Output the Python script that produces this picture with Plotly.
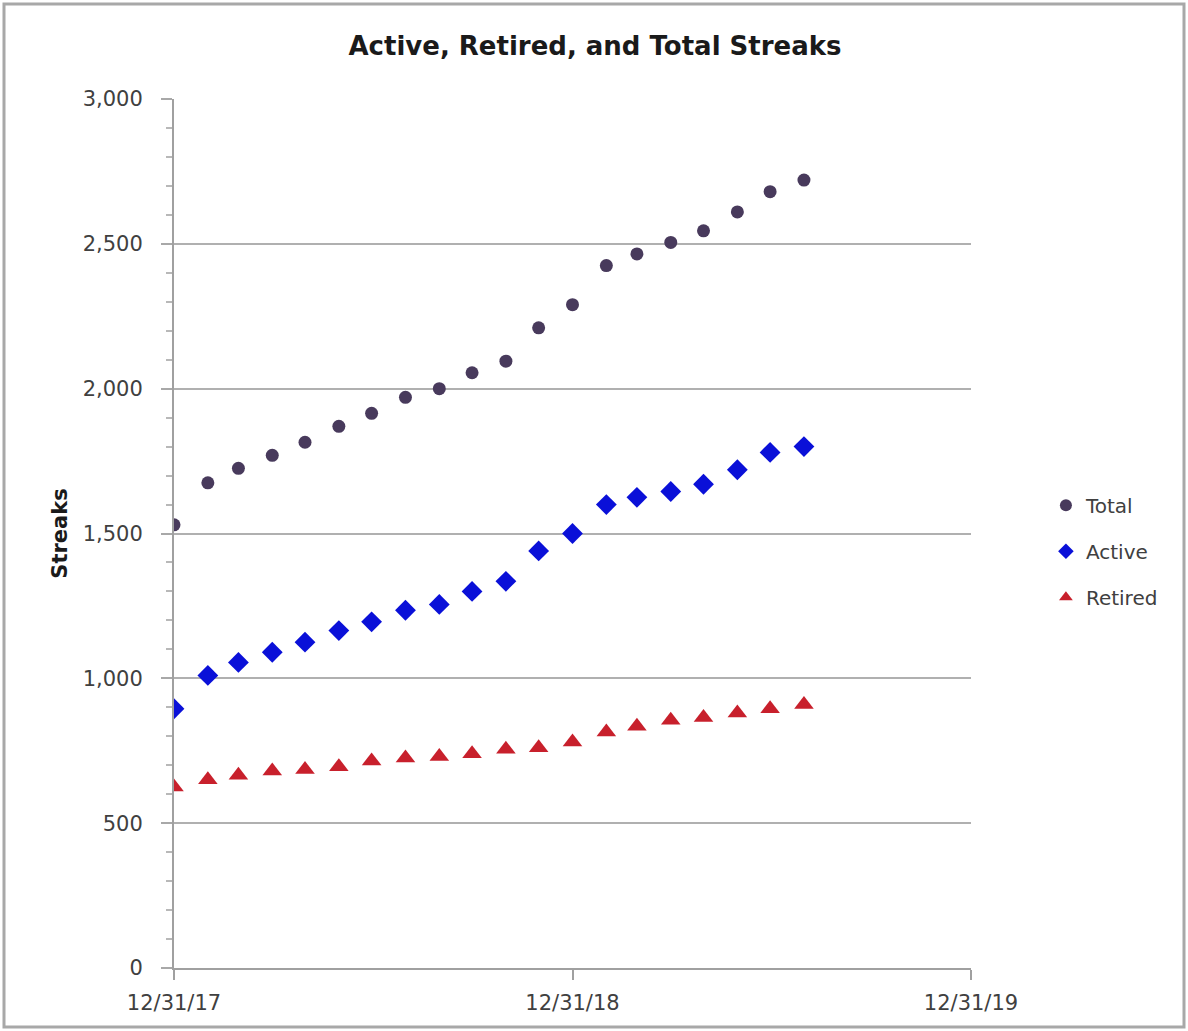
import plotly.graph_objects as go

dates = ["2017-12-31", "2018-01-31", "2018-02-28", "2018-03-31", "2018-04-30",
         "2018-05-31", "2018-06-30", "2018-07-31", "2018-08-31", "2018-09-30",
         "2018-10-31", "2018-11-30", "2018-12-31", "2019-01-31", "2019-02-28",
         "2019-03-31", "2019-04-30", "2019-05-31", "2019-06-30", "2019-07-31"]
total = [1530, 1675, 1725, 1770, 1815, 1870, 1915, 1970, 2000, 2055,
         2095, 2210, 2290, 2425, 2465, 2505, 2545, 2610, 2680, 2720]
active = [895, 1010, 1055, 1090, 1125, 1165, 1195, 1235, 1255, 1300,
          1335, 1440, 1500, 1600, 1625, 1645, 1670, 1720, 1780, 1800]
retired = [625, 650, 665, 680, 685, 695, 715, 725, 730, 740,
           755, 760, 780, 815, 835, 855, 865, 880, 895, 910]
x_ticks = ["2017-12-31", "2018-12-31", "2019-12-31"]
x_tick_labels = ["12/31/17", "12/31/18", "12/31/19"]

FONT = "DejaVu Sans"
fig = go.Figure()
fig.add_trace(go.Scatter(x=dates, y=total, mode="markers", name="Total", legendgroup="t",
                         marker=dict(symbol="circle", size=13, color="#483a5c")))
fig.add_trace(go.Scatter(x=dates, y=active, mode="markers", name="Active", legendgroup="a",
                         marker=dict(symbol="diamond", size=16, color="#0a10d8")))
fig.add_trace(go.Scatter(x=dates, y=retired, mode="markers", name="Retired", legendgroup="r",
                         marker=dict(symbol="triangle-up", size=17, color="#c8202c")))

fig.update_layout(
    width=1188, height=1031,
    margin=dict(l=174, r=217, t=99, b=63),
    paper_bgcolor="white", plot_bgcolor="white",
    font=dict(family=FONT, color="#404040"),
    title=dict(text="<b>Active, Retired, and Total Streaks</b>", x=595 / 1188,
               xanchor="center", y=1 - 46 / 1031, yanchor="middle",
               font=dict(size=26, color="#1a1a1a", family=FONT)),
    showlegend=True,
    legend=dict(x=1.094, y=0.555, xanchor="left", yanchor="top",
                font=dict(size=20, color="#404040", family=FONT),
                tracegroupgap=17, itemsizing="constant",
                bgcolor="rgba(0,0,0,0)"),
    xaxis=dict(type="date", range=["2017-12-31", "2019-12-31"],
               tickvals=x_ticks, ticktext=x_tick_labels,
               showgrid=False, showline=True, linecolor="#a0a0a0", linewidth=2,
               ticks="outside", ticklen=10, tickcolor="#a0a0a0", tickwidth=2,
               ticklabelstandoff=5,
               tickfont=dict(size=21, color="#404040"), zeroline=False),
    yaxis=dict(range=[0, 3000], tickvals=[0, 500, 1000, 1500, 2000, 2500, 3000],
               tickformat=",d",
               showgrid=True, gridcolor="#b0b0b0", gridwidth=1.5,
               showline=True, linecolor="#a0a0a0", linewidth=2,
               ticks="outside", ticklen=11, tickcolor="#a8a8a8", tickwidth=1.5,
               ticklabelstandoff=14,
               minor=dict(dtick=100, ticks="outside", ticklen=6, tickcolor="#b8b8b8",
                          showgrid=False),
               tickfont=dict(size=21, color="#404040"), zeroline=False,
               title=dict(text="<b>Streaks</b>", font=dict(size=21, color="#1a1a1a"),
                          standoff=9)),
)

fig.add_shape(type="rect", xref="paper", yref="paper",
              x0=(4 - 174) / 797, x1=(1184 - 174) / 797,
              y0=(968 - 1027) / 869, y1=(968 - 4) / 869,
              line=dict(color="#a8a8a8", width=3), fillcolor="rgba(0,0,0,0)", layer="below")

fig.write_html("out.html", config={"displayModeBar": False},
               post_script="document.body.style.margin='0';document.body.style.padding='0';")
